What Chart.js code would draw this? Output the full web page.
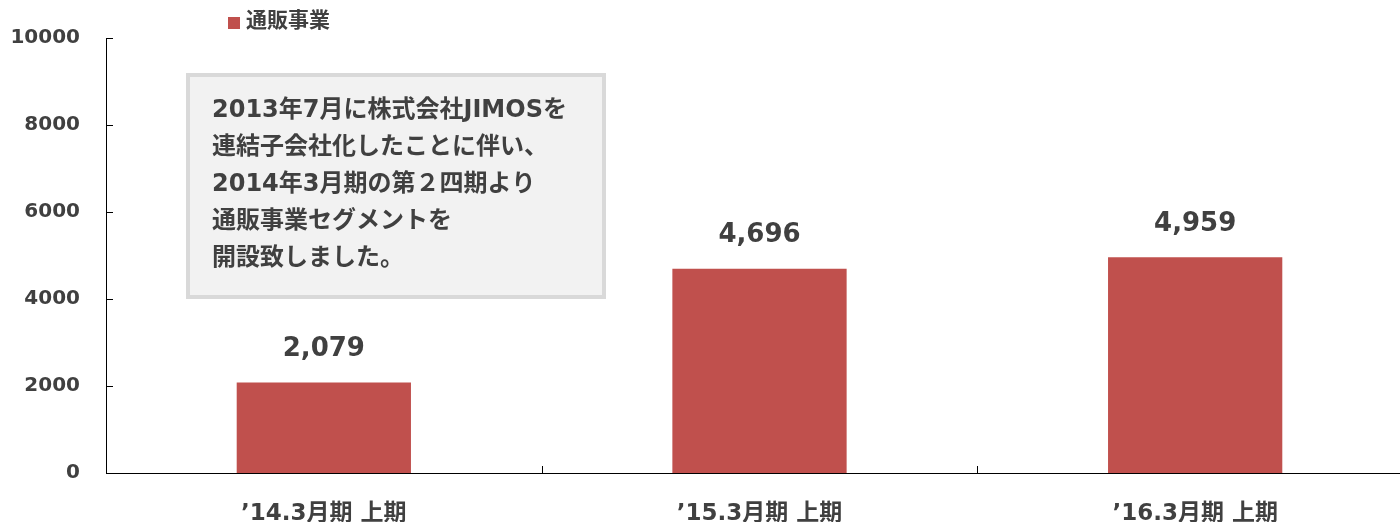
<!DOCTYPE html>
<html lang="ja">
<head>
    <meta charset="UTF-8">
    <title>通販事業</title>
    <script src="https://cdn.jsdelivr.net/npm/chart.js@4.4.1/dist/chart.umd.min.js"></script>
    <style>
        html, body { margin: 0; padding: 0; background: #fff; overflow: hidden; }
        #wrap { width: 1413px; height: 522px; position: relative; }
    </style>
</head>
<body>
<div id="wrap"><canvas id="salesChart"></canvas></div>
<script>
    const categories = ['’14.3月期 上期', '’15.3月期 上期', '’16.3月期 上期'];
    const salesValues = [2079, 4696, 4959];
    const seriesName = '通販事業';
    const yTicks = [0, 2000, 4000, 6000, 8000, 10000];
    const noteLines = [
        '2013年7月に株式会社JIMOSを',
        '連結子会社化したことに伴い、',
        '2014年3月期の第２四期より',
        '通販事業セグメントを',
        '開設致しました。'
    ];

    const FONT = '"DejaVu Sans", "Noto Sans CJK JP", sans-serif';
    const TEXT = '#404040';
    const BAR = '#c0504d';

    // short inward tick marks, legend, value labels and the note box
    const extras = {
        id: 'extras',
        afterDraw(chart) {
            const { ctx, scales: { x, y } } = chart;
            ctx.save();
            ctx.strokeStyle = '#000';
            ctx.lineWidth = 1;
            ctx.beginPath();
            yTicks.forEach(v => {
                const py = Math.round(y.getPixelForValue(v)) + 0.5;
                ctx.moveTo(x.left, py);
                ctx.lineTo(x.left + 7, py);
            });
            for (let i = 0; i < categories.length - 1; i++) {
                const px = Math.round((x.getPixelForValue(i) + x.getPixelForValue(i + 1)) / 2) + 0.5;
                ctx.moveTo(px, y.bottom);
                ctx.lineTo(px, y.bottom - 7);
            }
            ctx.stroke();

            // value labels
            ctx.fillStyle = TEXT;
            ctx.font = 'bold 26px ' + FONT;
            ctx.textAlign = 'center';
            ctx.textBaseline = 'middle';
            salesValues.forEach((v, i) => {
                ctx.fillText(v.toLocaleString('en-US'), x.getPixelForValue(i), y.getPixelForValue(v) - 33);
            });

            // legend
            ctx.fillStyle = BAR;
            ctx.fillRect(228, 17, 12, 12);
            ctx.fillStyle = TEXT;
            ctx.font = 'bold 21px ' + FONT;
            ctx.textAlign = 'left';
            ctx.fillText(seriesName, 246, 22);

            // note box
            ctx.fillStyle = '#f2f2f2';
            ctx.fillRect(186, 73, 420, 226);
            ctx.strokeStyle = '#d9d9d9';
            ctx.lineWidth = 4;
            ctx.strokeRect(188, 75, 416, 222);
            ctx.fillStyle = TEXT;
            ctx.font = 'bold 24px ' + FONT;
            noteLines.forEach((line, i) => {
                ctx.fillText(line, 212, 111 + i * 37);
            });
            ctx.restore();
        }
    };

    new Chart(document.getElementById('salesChart'), {
        type: 'bar',
        data: {
            labels: categories,
            datasets: [{
                label: seriesName,
                data: salesValues,
                backgroundColor: BAR,
                barPercentage: 0.4,
                categoryPercentage: 1.0
            }]
        },
        options: {
            responsive: true,
            maintainAspectRatio: false,
            animation: false,
            layout: { padding: { top: 33, right: 0, left: 0, bottom: 0 } },
            plugins: {
                legend: { display: false },
                tooltip: { enabled: false }
            },
            scales: {
                x: {
                    grid: { display: false, drawTicks: false },
                    border: { display: true, color: '#000', width: 1 },
                    ticks: {
                        color: TEXT,
                        padding: 27,
                        maxRotation: 0,
                        font: { family: FONT, size: 23, weight: 'bold' }
                    },
                    afterFit(scale) { scale.height = 49; }
                },
                y: {
                    min: 0,
                    max: 10000,
                    grid: { display: false, drawTicks: false },
                    border: { display: true, color: '#000', width: 1 },
                    ticks: {
                        stepSize: 2000,
                        color: TEXT,
                        padding: 26,
                        callback: v => String(v),
                        font: { family: FONT, size: 20, weight: 'bold' }
                    },
                    afterFit(scale) { scale.width = 106; }
                }
            }
        },
        plugins: [extras]
    });
</script>
</body>
</html>
